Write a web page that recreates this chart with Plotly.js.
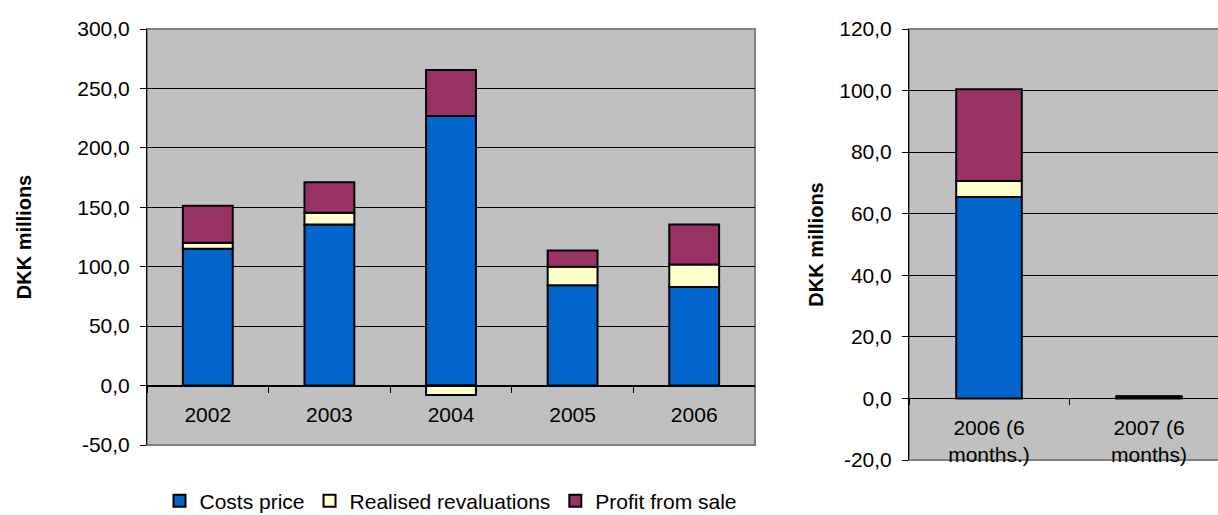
<!DOCTYPE html>
<html>
<head>
<meta charset="utf-8">
<script src="https://cdn.plot.ly/plotly-3.0.1.min.js"></script>
<style>
  html, body { margin: 0; padding: 0; background: #fff; }
  #chart { width: 1218px; height: 515px; }
</style>
</head>
<body>
<div id="chart"></div>
<script>
// Annual figures, DKK millions
const years = ['2002', '2003', '2004', '2005', '2006'];
const costsPrice = [115.1, 135.6, 226.9, 84.5, 83.0];
const realisedRevaluations = [5.0, 9.8, -8.0, 15.4, 18.9];
const profitFromSale = [31.2, 25.6, 38.5, 13.8, 33.7];

// Half-year figures, DKK millions
const halfYears = ['2006 (6<br>months.)', '2007 (6<br>months)'];
const halfCostsPrice = [65.4, 0.6];
const halfRealisedRevaluations = [5.2, 0];
const halfProfitFromSale = [29.8, 0];

// Value axis ticks
const annualTickValues = [-50, 0, 50, 100, 150, 200, 250, 300];
const annualTickLabels = ['-50,0', '0,0', '50,0', '100,0', '150,0', '200,0', '250,0', '300,0'];
const halfTickValues = [-20, 0, 20, 40, 60, 80, 100, 120];
const halfTickLabels = ['-20,0', '0,0', '20,0', '40,0', '60,0', '80,0', '100,0', '120,0'];

const seriesNames = ['Costs price', 'Realised revaluations', 'Profit from sale'];
const seriesColors = ['#0066CC', '#FFFFCC', '#993366'];

const FONT = 'Liberation Sans, Arial, sans-serif';
const barLine = { color: '#000000', width: 2 };

function bars(x, ys, xa, ya, legend) {
  return ys.map((y, i) => ({
    type: 'bar',
    x: x,
    y: y,
    name: seriesNames[i],
    xaxis: xa,
    yaxis: ya,
    showlegend: legend,
    marker: { color: seriesColors[i], line: barLine },
    hoverinfo: 'x+y+name'
  }));
}

const data = [
  ...bars(years, [costsPrice, realisedRevaluations, profitFromSale], 'x', 'y', true),
  ...bars(halfYears, [halfCostsPrice, halfRealisedRevaluations, halfProfitFromSale], 'x2', 'y2', false)
];

// vertical layout (px)
const plotTop = 29, plotBottom = 460, leftBottom = 445;
const H = plotBottom - plotTop;
const leftDomain = [(plotBottom - leftBottom) / H, 1];
const leftRange = [-50, 300];
const rightRange = [-20, 120];
const zeroPos = (dom, r) => dom[0] + (0 - r[0]) / (r[1] - r[0]) * (dom[1] - dom[0]);

const W = 1218;
const tickFont = { family: FONT, size: 21, color: '#000000' };
const titleFont = { family: FONT, size: 20, color: '#000000' };

function yAxis(range, vals, labels, domain, anchor, standoff) {
  return {
    range: range,
    domain: domain,
    anchor: anchor,
    tickmode: 'array',
    tickvals: vals,
    ticktext: labels,
    tickfont: tickFont,
    ticks: 'outside',
    ticklen: 6,
    tickcolor: '#000000',
    ticklabelstandoff: 6,
    showline: true,
    linecolor: '#000000',
    linewidth: 1,
    showgrid: true,
    gridcolor: '#000000',
    gridwidth: 1,
    zeroline: false,
    fixedrange: true,
    automargin: false,
    title: { text: '<b>DKK millions</b>', font: titleFont, standoff: standoff }
  };
}

function xAxis(domain, range, pos) {
  return {
    type: 'category',
    domain: domain,
    range: range,
    anchor: 'free',
    position: pos,
    tickson: 'boundaries',
    ticks: 'outside',
    ticklen: 6,
    tickcolor: '#000000',
    tickfont: tickFont,
    ticklabelstandoff: 10,
    showline: true,
    linecolor: '#000000',
    linewidth: 1,
    showgrid: false,
    zeroline: false,
    fixedrange: true,
    automargin: false
  };
}

const layout = {
  width: W,
  height: 515,
  margin: { l: 0, r: 0, t: plotTop, b: 515 - plotBottom, autoexpand: false },
  paper_bgcolor: '#FFFFFF',
  plot_bgcolor: '#C0C0C0',
  barmode: 'relative',
  bargap: 0.59,
  font: { family: FONT, color: '#000000' },
  xaxis: xAxis([147 / W, 755 / W], [-0.5, 4.5], zeroPos(leftDomain, leftRange)),
  yaxis: yAxis(leftRange, annualTickValues, annualTickLabels, leftDomain, 'x', 40),
  xaxis2: xAxis([909 / W, 1], [-0.5, -0.5 + (W - 909) / 160], zeroPos([0, 1], rightRange)),
  yaxis2: yAxis(rightRange, halfTickValues, halfTickLabels, [0, 1], 'x2', 10),
  legend: {
    orientation: 'h',
    x: 451 / W,
    xanchor: 'center',
    y: (plotBottom - 501) / H,
    yanchor: 'middle',
    font: { family: FONT, size: 21, color: '#000000' },
    itemwidth: 30,
    tracegroupgap: 0,
    bgcolor: 'rgba(0,0,0,0)'
  },
  shapes: [
    { type: 'rect', xref: 'x domain', yref: 'y domain', x0: 0, x1: 1, y0: 0, y1: 1,
      line: { color: '#808080', width: 2 }, layer: 'below' },
    { type: 'rect', xref: 'x2 domain', yref: 'y2 domain', x0: 0, x1: 1.02, y0: 0, y1: 1,
      line: { color: '#808080', width: 2 }, layer: 'below' }
  ]
};

Plotly.newPlot('chart', data, layout, { displayModeBar: false, staticPlot: true });
</script>
</body>
</html>
